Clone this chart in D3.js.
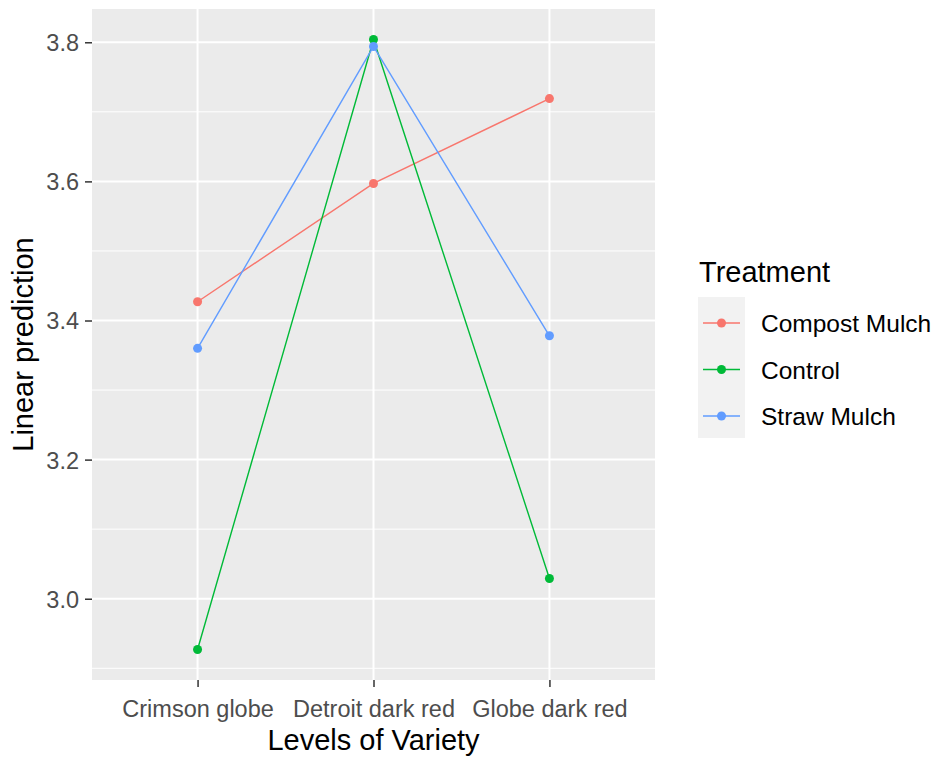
<!DOCTYPE html>
<html><head><meta charset="utf-8">
<script src="https://cdn.jsdelivr.net/npm/d3@7"></script>
<style>body{margin:0;background:#fff;} text{font-family:"Liberation Sans",Arial,sans-serif;}</style>
</head><body>
<svg id="c" width="936" height="758"></svg>
<script>
const categories = ["Crimson globe", "Detroit dark red", "Globe dark red"];
const treatments = ["Compost Mulch", "Control", "Straw Mulch"];
const compost = [3.427, 3.597, 3.719];
const control = [2.927, 3.804, 3.029];
const straw = [3.360, 3.794, 3.378];
const yTicks = [3.0, 3.2, 3.4, 3.6, 3.8];
const yMinor = [2.9, 3.1, 3.3, 3.5, 3.7];
const colors = ["#F8766D", "#00BA38", "#619CFF"];

const seriesVals = [compost, control, straw];
const svg = d3.select("#c");
const L = 92, R = 655, T = 9, B = 680;
const FF = "'Liberation Sans',Arial,sans-serif";

const allV = seriesVals.flat();
const lo = d3.min(allV), hi = d3.max(allV), ext = (hi - lo) * 0.05;
const y = d3.scaleLinear().domain([lo - ext, hi + ext]).range([B, T]);
const x = d3.scalePoint().domain(categories).range([L, R]).padding(0.6);

svg.append("rect").attr("x", L).attr("y", T).attr("width", R - L).attr("height", B - T).attr("fill", "#EBEBEB");
const g = svg.append("g");
yMinor.forEach(v => g.append("line").attr("x1", L).attr("x2", R).attr("y1", y(v)).attr("y2", y(v)).attr("stroke", "#fff").attr("stroke-width", 1));
yTicks.forEach(v => g.append("line").attr("x1", L).attr("x2", R).attr("y1", y(v)).attr("y2", y(v)).attr("stroke", "#fff").attr("stroke-width", 2));
categories.forEach(c => g.append("line").attr("x1", x(c)).attr("x2", x(c)).attr("y1", T).attr("y2", B).attr("stroke", "#fff").attr("stroke-width", 2));

// axes
const yAxis = d3.axisLeft(y).tickValues(yTicks).tickFormat(d3.format(".1f")).tickSize(7).tickPadding(6);
const ya = svg.append("g").attr("transform", `translate(${L},0)`).call(yAxis);
ya.select(".domain").remove();
ya.selectAll("line").attr("stroke", "#333").attr("stroke-width", 1.5);
ya.selectAll("text").attr("fill", "#4D4D4D").attr("dy", "0.36em").style("font-size", "23.5px").style("font-family", FF);

const xAxis = d3.axisBottom(x).tickSize(7).tickPadding(4);
const xa = svg.append("g").attr("transform", `translate(0,${B})`).call(xAxis);
xa.select(".domain").remove();
xa.selectAll("line").attr("stroke", "#333").attr("stroke-width", 1.5);
xa.selectAll("text").attr("fill", "#4D4D4D").attr("dy", null).attr("y", 37).style("font-size", "23.5px").style("font-family", FF);

svg.append("text").attr("x", (L + R) / 2).attr("y", 750).attr("text-anchor", "middle").style("font-size", "29px").attr("fill", "#000").text("Levels of Variety");
svg.append("text").attr("transform", `translate(33,${(T + B) / 2}) rotate(-90)`).attr("text-anchor", "middle").style("font-size", "29px").attr("fill", "#000").text("Linear prediction");

// lines
const line = d3.line().x((d, i) => x(categories[i])).y(d => y(d));
seriesVals.forEach((vals, s) => {
  svg.append("path").attr("d", line(vals)).attr("fill", "none").attr("stroke", colors[s]).attr("stroke-width", 1.4);
});
seriesVals.forEach((vals, s) => {
  vals.forEach((v, i) => svg.append("circle").attr("cx", x(categories[i])).attr("cy", y(v)).attr("r", 4.5).attr("fill", colors[s]));
});

// legend
svg.append("text").attr("x", 699).attr("y", 282).style("font-size", "29px").attr("fill", "#000").text("Treatment");
const ky = d3.scalePoint().domain(treatments).range([323, 416]);
svg.append("rect").attr("x", 698).attr("y", 297).attr("width", 47).attr("height", 141).attr("fill", "#F2F2F2");
treatments.forEach((t, i) => {
  const yy = ky(t);
  svg.append("line").attr("x1", 703).attr("x2", 740).attr("y1", yy).attr("y2", yy).attr("stroke", colors[i]).attr("stroke-width", 1.4);
  svg.append("circle").attr("cx", 721.5).attr("cy", yy).attr("r", 4.5).attr("fill", colors[i]);
  svg.append("text").attr("x", 761).attr("y", yy + 9).style("font-size", "24.5px").attr("fill", "#000").text(t);
});
</script>
</body></html>
